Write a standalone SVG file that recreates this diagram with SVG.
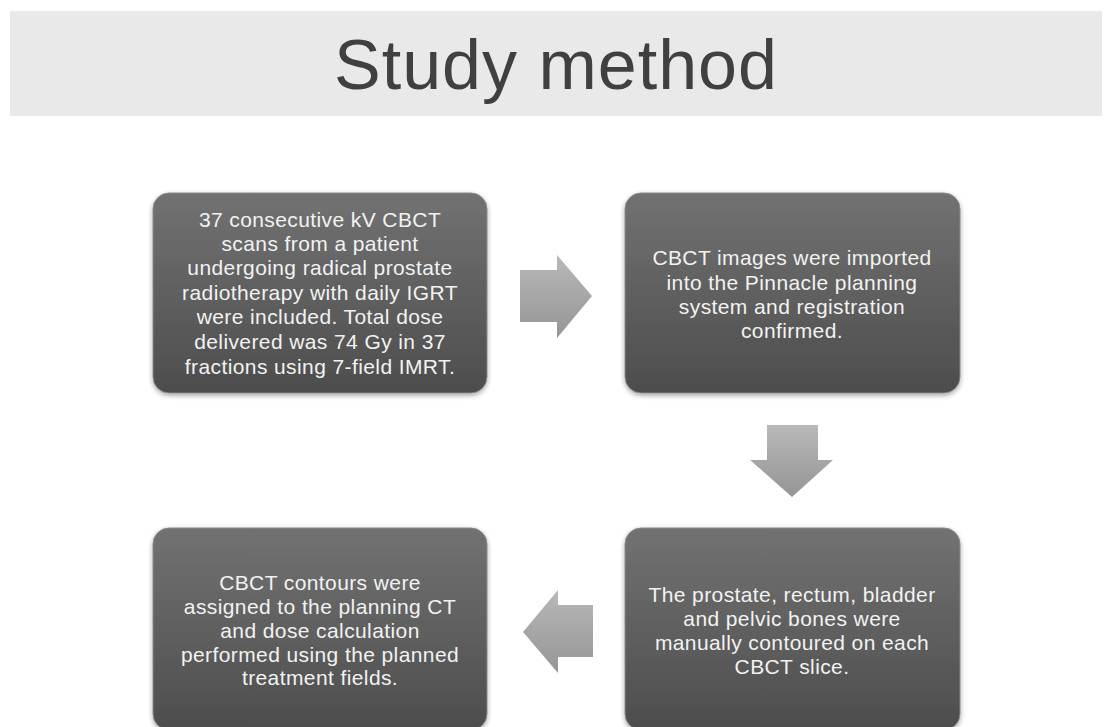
<svg xmlns="http://www.w3.org/2000/svg" width="1106" height="727" viewBox="0 0 1106 727">
<style>
.box{fill:url(#boxg);stroke:#8a8a8a;stroke-width:1}
.bt{font-family:"Liberation Sans",Arial,sans-serif;font-size:21px;fill:#f2f2f2;text-anchor:middle;letter-spacing:0.4px}
.arr{fill:url(#arrg)}
.title{font-family:"Liberation Sans",Arial,sans-serif;font-size:70px;fill:#404040;text-anchor:middle}
</style>
<defs>
<linearGradient id="boxg" x1="0" y1="0" x2="0" y2="1">
<stop offset="0" stop-color="#727272"/>
<stop offset="1" stop-color="#4d4d4d"/>
</linearGradient>
<linearGradient id="arrg" x1="0" y1="0" x2="0" y2="1">
<stop offset="0" stop-color="#b8b8b8"/>
<stop offset="1" stop-color="#959595"/>
</linearGradient>
<filter id="sh" x="-10%" y="-10%" width="120%" height="130%">
<feDropShadow dx="0" dy="2" stdDeviation="2.5" flood-color="#000" flood-opacity="0.35"/>
</filter>
</defs>
<rect width="1106" height="727" fill="#ffffff"/>
<g id="title">
<rect x="10" y="11" width="1092" height="105" fill="#e9e9e9"/>
<text class="title" x="556" y="89" letter-spacing="1">Study method</text>
</g>
<g id="node1">
<rect class="box" x="153" y="193" width="334" height="200" rx="16" filter="url(#sh)"/>
<text class="bt" x="320" y="227">37 consecutive kV CBCT</text>
<text class="bt" x="320" y="251">scans from a patient</text>
<text class="bt" x="320" y="275">undergoing radical prostate</text>
<text class="bt" x="320" y="300">radiotherapy with daily IGRT</text>
<text class="bt" x="320" y="324">were included. Total dose</text>
<text class="bt" x="320" y="349">delivered was 74 Gy in 37</text>
<text class="bt" x="320" y="374">fractions using 7-field IMRT.</text>
</g>
<g id="node2">
<rect class="box" x="625" y="193" width="335" height="200" rx="16" filter="url(#sh)"/>
<text class="bt" x="792" y="265">CBCT images were imported</text>
<text class="bt" x="792" y="290">into the Pinnacle planning</text>
<text class="bt" x="792" y="314">system and registration</text>
<text class="bt" x="792" y="338">confirmed.</text>
</g>
<g id="node3">
<rect class="box" x="625" y="528" width="335" height="202" rx="16" filter="url(#sh)"/>
<text class="bt" x="792" y="602">The prostate, rectum, bladder</text>
<text class="bt" x="792" y="626">and pelvic bones were</text>
<text class="bt" x="792" y="650">manually contoured on each</text>
<text class="bt" x="792" y="674">CBCT slice.</text>
</g>
<g id="node4">
<rect class="box" x="153" y="528" width="334" height="202" rx="16" filter="url(#sh)"/>
<text class="bt" x="320" y="590">CBCT contours were</text>
<text class="bt" x="320" y="614">assigned to the planning CT</text>
<text class="bt" x="320" y="638">and dose calculation</text>
<text class="bt" x="320" y="662">performed using the planned</text>
<text class="bt" x="320" y="685">treatment fields.</text>
</g>
<g id="connectors">
<polygon class="arr" points="520,270 557,270 557,255 592,296 557,338 557,322 520,322"/>
<polygon class="arr" points="767,425 818,425 818,460 833,460 792,497 750,460 767,460"/>
<polygon class="arr" points="593,605 558,605 558,590 523,632 558,673 558,657 593,657"/>
</g>
</svg>
